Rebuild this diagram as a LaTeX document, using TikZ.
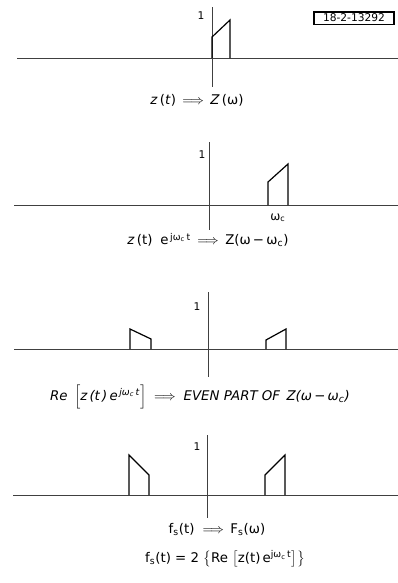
\documentclass[tikz,border=0pt]{standalone}
\usepackage{fontspec}
\setmainfont{DejaVu Sans}
\usetikzlibrary{positioning}

\begin{document}
\begin{tikzpicture}[x=0.75pt, y=-0.75pt,
  axis/.style={line width=0.5pt, black!75},
  pulse/.style={line width=0.9pt, line join=miter},
  formula/.style={font=\normalsize, inner sep=1pt},
  unit/.style={font=\footnotesize, inner sep=1pt},
  tag/.style={draw, line width=0.8pt, font=\footnotesize, inner sep=1.5pt, minimum width=60pt}]
  \useasboundingbox (0,0) rectangle (398,583);
  % panel 1: baseband spectrum
  \draw[axis] (17,58) -- (398,58);
  \draw[axis] (212,7) -- (212,87);
  \draw[pulse] (212,58) -- (212,37) -- (230,20) -- (230,58);
  \node[unit] (one1) at (201,16) {1};
  \node[tag] (id) at (354,18) {18-2-13292};
  \node[formula] (eq1) at (197,100) {\textit{z}\,(\textit{t}) \,$\Longrightarrow$\, \textit{Z}\,(ω)};
  % panel 2: shifted to omega_c
  \draw[axis] (14,205) -- (398,205);
  \draw[axis] (209,142) -- (209,230);
  \draw[pulse] (268,205) -- (268,182) -- (288,164) -- (288,205);
  \node[unit] (one2) at (202,155) {1};
  \node[font=\small, inner sep=1pt] (wc) at (278,218) {ω\textsubscript{c}};
  \node[formula] (eq2) at (208,240) {\textit{z}\,(t)\; e\textsuperscript{\,jω\textsubscript{c}\,t} \,$\Longrightarrow$\, Z(ω\,−\,ω\textsubscript{c})};
  % panel 3: real part
  \draw[axis] (14,349) -- (398,349);
  \draw[axis] (208,292) -- (208,377);
  \draw[pulse] (266,349) -- (266,340) -- (286,329) -- (286,349);
  \draw[pulse] (130,349) -- (130,329) -- (151,339) -- (151,349);
  \node[unit] (one3) at (197,307) {1};
  \node[formula] (eq3) at (200,397) {\itshape Re \,$\Bigl[$z\,(t\,)\,e\textsuperscript{\,jω\textsubscript{c}\,t}$\Bigr]$ \;$\Longrightarrow$\; EVEN PART OF \,Z(ω\,−\,ω\textsubscript{c})};
  % panel 4: sampled signal spectrum
  \draw[axis] (13,495) -- (398,495);
  \draw[axis] (207,435) -- (207,518);
  \draw[pulse] (265,495) -- (265,475) -- (285,455) -- (285,495);
  \draw[pulse] (129,495) -- (129,455) -- (149,475) -- (149,495);
  \node[unit] (one4) at (197,447) {1};
  \node[formula] (eq4) at (217,529) {f\textsubscript{s}(t) \;$\Longrightarrow$\, F\textsubscript{s}(ω)};
  \node[formula] (eq5) at (225,559) {f\textsubscript{s}(t) = 2 $\bigl\{$Re $\bigl[$z(t)\,e\textsuperscript{jω\textsubscript{c}\,t}$\bigr]\bigr\}$};
\end{tikzpicture}
\end{document}
